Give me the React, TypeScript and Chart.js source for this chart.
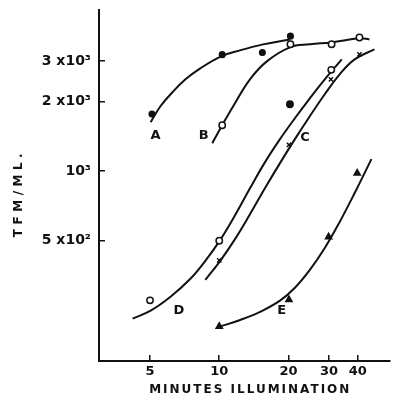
import React, { useEffect, useRef } from 'react';
import { Chart, registerables } from 'chart.js';

Chart.register(...registerables);

// Axis ticks
const xTickValues = [5, 10, 20, 30, 40];
const yTickValues = [500, 1000, 2000, 3000];
const yTickLabels = ['5 x10²', '10³', '2 x10³', '3 x10³'];

// Measured titres (TFM/ML.) against minutes of illumination
const aX = [5.1, 10.3, 15.4, 20.4];
const aY = [1770, 3200, 3270, 3850];

const bX = [10.3, 20.4, 30.8, 40.7];
const bY = [1580, 3550, 3550, 3800];

const cX = [10, 20.1, 30.6, 40.7];
const cY = [410, 1300, 2500, 3210];

const dX = [5, 10, 20.3, 30.7];
const dY = [275, 499, 1950, 2750];
const dFilled = [false, false, true, false];

const eX = [10, 20.1, 29.9, 39.8];
const eY = [212, 277, 518, 980];

// Smoothed response curves
const aCurveX = [5.03, 5.55, 6.26, 7.13, 8.27, 10.2, 12.3, 15.5, 20.3];
const aCurveY = [1629, 1912, 2198, 2501, 2792, 3147, 3341, 3546, 3727];

const bCurveX = [9.33, 10.3, 11.5, 13.6, 16.1, 20.3, 24.8, 30.8, 40.8, 45.0];
const bCurveY = [1322, 1581, 1910, 2500, 2993, 3443, 3548, 3618, 3766, 3727];

const cCurveX = [8.7, 10.1, 11.73, 13.62, 15.82, 18.37, 21.33, 24.77, 28.77, 33.4, 38.8, 47.3];
const cCurveY = [337, 408, 508, 651, 844, 1083, 1376, 1730, 2154, 2630, 3053, 3374];

const dCurveX = [4.2, 5.03, 6.14, 7.49, 8.7, 10.1, 11.73, 13.62, 15.82, 18.37, 21.33, 24.77, 28.77, 34.1];
const dCurveY = [229, 248, 285, 341, 408, 503, 645, 844, 1094, 1376, 1696, 2070, 2502, 3053];

const eCurveX = [10.0, 12.33, 15.05, 18.37, 21.33, 24.77, 28.77, 33.4, 38.8, 45.9];
const eCurveY = [211, 226, 245, 274, 312, 373, 464, 602, 803, 1127];

// Curve letters and where they sit (data coordinates)
const curveNames = ['A', 'B', 'C', 'D', 'E'];
const curveNameX = [5.28, 8.55, 23.6, 6.67, 18.7];
const curveNameY = [1422, 1422, 1399, 248, 248];

const xTitle = 'MINUTES ILLUMINATION';
const yTitle = 'TFM/ML.';

const INK = '#111';
const FONT = '"DejaVu Sans", sans-serif';

const zip = (xs: number[], ys: number[]) => xs.map((x, i) => ({ x, y: ys[i] }));

const curve = (xs: number[], ys: number[]) => ({
  data: zip(xs, ys),
  showLine: true,
  borderColor: INK,
  borderWidth: 2,
  pointRadius: 0,
  tension: 0.4,
  order: 2,
});

const markers = (
  xs: number[],
  ys: number[],
  style: string,
  radius: number,
  fill: string | string[],
) => ({
  data: zip(xs, ys),
  showLine: false,
  pointStyle: style,
  pointRadius: radius,
  pointBorderWidth: 1.5,
  pointBorderColor: INK,
  pointBackgroundColor: fill,
  order: 1,
});

const textLayer = {
  id: 'textLayer',
  afterDatasetsDraw(chart: any) {
    const { ctx, chartArea, scales } = chart;
    const sx = scales.x;
    const sy = scales.y;
    ctx.save();
    ctx.fillStyle = INK;
    ctx.textAlign = 'center';
    ctx.textBaseline = 'middle';

    ctx.font = `bold 13px ${FONT}`;
    curveNames.forEach((name, i) => {
      ctx.fillText(name, sx.getPixelForValue(curveNameX[i]), sy.getPixelForValue(curveNameY[i]));
    });

    ctx.font = `bold 12px ${FONT}`;
    (ctx as any).letterSpacing = '2px';
    ctx.fillText(xTitle, (chartArea.left + chartArea.right) / 2 + 6, 390);

    (ctx as any).letterSpacing = '4.5px';
    ctx.translate(19, 193);
    ctx.rotate(-Math.PI / 2);
    ctx.fillText(yTitle, 0, 0);
    ctx.restore();
  },
};

export default function App() {
  const canvasRef = useRef<HTMLCanvasElement | null>(null);

  useEffect(() => {
    if (!canvasRef.current) return;
    const tickFont = { family: FONT, size: 13, weight: 'bold' as const };

    const chart = new Chart(canvasRef.current, {
      type: 'scatter',
      data: {
        datasets: [
          curve(aCurveX, aCurveY),
          curve(bCurveX, bCurveY),
          curve(cCurveX, cCurveY),
          curve(dCurveX, dCurveY),
          curve(eCurveX, eCurveY),
          markers(aX, aY, 'circle', 2.8, INK),
          markers(bX, bY, 'circle', 3.2, '#fff'),
          markers(cX, cY, 'crossRot', 3, INK),
          markers(dX, dY, 'circle', 3.2, dFilled.map((f) => (f ? INK : '#fff'))),
          markers(eX, eY, 'triangle', 3.6, INK),
        ] as any,
      },
      options: {
        responsive: false,
        animation: false,
        devicePixelRatio: 1,
        layout: { padding: { top: 10, right: 4, left: 0, bottom: 0 } },
        plugins: {
          legend: { display: false },
          tooltip: { enabled: false },
        },
        scales: {
          x: {
            type: 'logarithmic',
            min: 3,
            max: 55,
            afterFit: (scale: any) => {
              scale.height = 41;
              scale.paddingLeft = 0;
              scale.paddingRight = 0;
            },
            afterBuildTicks: (scale: any) => {
              scale.ticks = xTickValues.map((value) => ({ value }));
            },
            border: { display: true, color: INK, width: 2 },
            grid: {
              display: true,
              drawOnChartArea: false,
              drawTicks: true,
              tickLength: -6,
              color: INK,
              lineWidth: 1.5,
            },
            ticks: {
              autoSkip: false,
              maxRotation: 0,
              color: INK,
              font: tickFont,
              padding: 9,
              callback: (value: any) => String(value),
            },
          },
          y: {
            type: 'logarithmic',
            min: 150,
            max: 5000,
            afterFit: (scale: any) => {
              scale.width = 99;
              scale.paddingTop = 0;
              scale.paddingBottom = 0;
            },
            afterBuildTicks: (scale: any) => {
              scale.ticks = yTickValues.map((value) => ({ value }));
            },
            border: { display: true, color: INK, width: 2 },
            grid: {
              display: true,
              drawOnChartArea: false,
              drawTicks: true,
              tickLength: -6,
              color: INK,
              lineWidth: 1.5,
            },
            ticks: {
              autoSkip: false,
              color: INK,
              font: { family: FONT, size: 14, weight: 'bold' as const },
              padding: 14,
              callback: (value: any) => {
                const i = yTickValues.indexOf(Number(value));
                return i >= 0 ? yTickLabels[i] : '';
              },
            },
          },
        },
      },
      plugins: [textLayer],
    });

    return () => chart.destroy();
  }, []);

  return (
    <div style={{ position: 'absolute', left: 0, top: 0, width: 395, height: 402, background: '#fff' }}>
      <canvas ref={canvasRef} width={395} height={402} style={{ display: 'block' }} />
    </div>
  );
}
